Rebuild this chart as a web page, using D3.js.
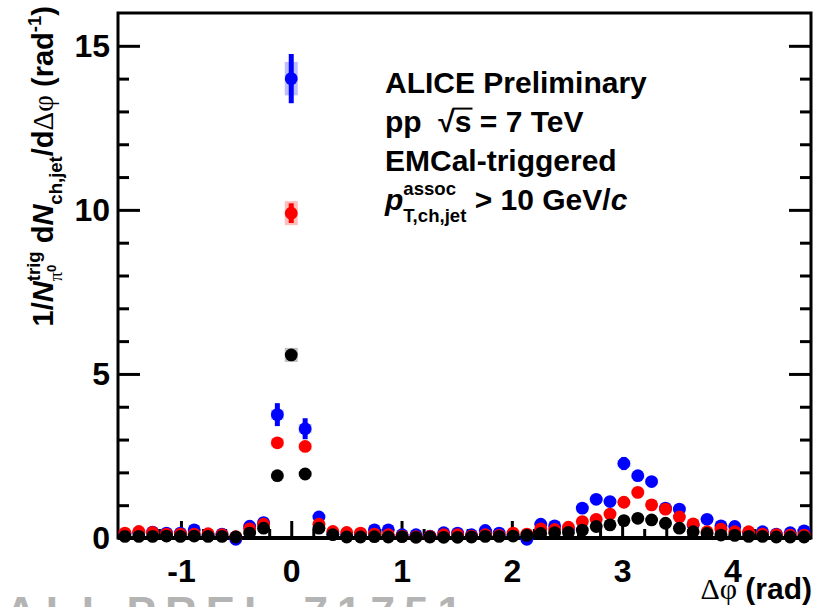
<!DOCTYPE html>
<html>
<head>
<meta charset="utf-8">
<script src="https://cdn.jsdelivr.net/npm/d3@7"></script>
<style>
  body { margin: 0; background: #fff; }
  text { font-family: "Liberation Sans", Arial, sans-serif; font-weight: bold; white-space: pre; }
</style>
</head>
<body>
<div id="main"></div>
<script>
const ctx = {
    WIDTH: 819,
    HEIGHT: 607,
    left: 118, right: 811, top: 13, bottom: 538,
};

// bin centres of the 50 dphi bins (-pi/2 .. 3pi/2)
const dphi = [-1.508, -1.382, -1.257, -1.131, -1.005, -0.880, -0.754, -0.628, -0.503, -0.377,
    -0.251, -0.126, 0.000, 0.126, 0.251, 0.377, 0.503, 0.628, 0.754, 0.880,
    1.005, 1.131, 1.257, 1.382, 1.508, 1.634, 1.759, 1.885, 2.011, 2.136,
    2.262, 2.388, 2.513, 2.639, 2.765, 2.890, 3.016, 3.142, 3.267, 3.393,
    3.519, 3.644, 3.770, 3.896, 4.021, 4.147, 4.273, 4.398, 4.524, 4.650];

const blueVals = [0.12, 0.15, 0.18, 0.15, 0.15, 0.25, 0.08, 0.12, -0.04, 0.36,
    0.47, 3.76, 14.0, 3.33, 0.64, 0.12, 0.10, 0.12, 0.25, 0.25,
    0.10, 0.10, 0.06, 0.16, 0.15, 0.10, 0.23, 0.15, 0.10, -0.04,
    0.42, 0.37, 0.28, 0.91, 1.18, 1.11, 2.27, 1.90, 1.72, 0.91,
    0.88, 0.40, 0.57, 0.37, 0.35, 0.15, 0.19, 0.12, 0.16, 0.22];
const blueErr = [0.05, 0.05, 0.05, 0.05, 0.05, 0.05, 0.05, 0.05, 0.05, 0.06,
    0.07, 0.35, 0.75, 0.32, 0.08, 0.05, 0.05, 0.05, 0.05, 0.05,
    0.05, 0.05, 0.05, 0.05, 0.05, 0.05, 0.05, 0.05, 0.05, 0.05,
    0.06, 0.06, 0.06, 0.08, 0.09, 0.09, 0.20, 0.16, 0.16, 0.08,
    0.08, 0.06, 0.06, 0.05, 0.05, 0.05, 0.05, 0.05, 0.05, 0.05];

const redVals = [0.15, 0.20, 0.17, 0.12, 0.12, 0.12, 0.13, 0.10, 0.04, 0.28,
    0.42, 2.90, 9.90, 2.79, 0.42, 0.20, 0.17, 0.15, 0.12, 0.10,
    0.06, 0.04, 0.05, 0.10, 0.10, 0.06, 0.10, 0.08, 0.15, 0.12,
    0.28, 0.26, 0.33, 0.50, 0.57, 0.73, 1.09, 1.39, 1.01, 0.88,
    0.64, 0.43, 0.19, 0.27, 0.19, 0.19, 0.12, 0.10, 0.09, 0.09];
const redErr = [0.03, 0.03, 0.03, 0.03, 0.03, 0.03, 0.03, 0.03, 0.03, 0.03,
    0.04, 0.09, 0.30, 0.09, 0.04, 0.03, 0.03, 0.03, 0.03, 0.03,
    0.03, 0.03, 0.03, 0.03, 0.03, 0.03, 0.03, 0.03, 0.03, 0.03,
    0.03, 0.03, 0.03, 0.04, 0.04, 0.05, 0.06, 0.07, 0.06, 0.05,
    0.04, 0.04, 0.03, 0.03, 0.03, 0.03, 0.03, 0.03, 0.03, 0.03];

const blackVals = [0.05, 0.05, 0.05, 0.06, 0.05, 0.06, 0.05, 0.05, 0.03, 0.15,
    0.30, 1.90, 5.58, 1.95, 0.30, 0.10, 0.03, 0.03, 0.04, 0.03,
    0.04, 0.02, 0.03, 0.02, 0.02, 0.03, 0.05, 0.05, 0.06, 0.08,
    0.14, 0.16, 0.17, 0.24, 0.35, 0.40, 0.53, 0.60, 0.55, 0.45,
    0.30, 0.19, 0.14, 0.09, 0.08, 0.05, 0.05, 0.03, 0.03, 0.03];
const blackErr = [0.02, 0.02, 0.02, 0.02, 0.02, 0.02, 0.02, 0.02, 0.02, 0.02,
    0.03, 0.05, 0.12, 0.05, 0.03, 0.02, 0.02, 0.02, 0.02, 0.02,
    0.02, 0.02, 0.02, 0.02, 0.02, 0.02, 0.02, 0.02, 0.02, 0.02,
    0.02, 0.02, 0.02, 0.02, 0.03, 0.03, 0.03, 0.03, 0.03, 0.03,
    0.02, 0.02, 0.02, 0.02, 0.02, 0.02, 0.02, 0.02, 0.02, 0.02];

const xTicks = [-1, 0, 1, 2, 3, 4];
const yTicks = [0, 5, 10, 15];

const series = [
    { name: "blue", color: "#0000ff", vals: blueVals, err: blueErr },
    { name: "red", color: "#ff0000", vals: redVals, err: redErr },
    { name: "black", color: "#000000", vals: blackVals, err: blackErr },
];

// text made of runs, with super/subscripts (stack = put below the previous run)
function richText(parent, x0, y0, runs, fs, anchor) {
    const text = parent.append("text").style("font-size", fs + "px");
    let cursor = 0, groupStart = 0, groupEnd = 0, lastEnd = 0;
    const pos = [];
    runs.forEach(r => {
        let start = r.stack ? groupStart : (r.cont ? lastEnd : cursor);
        const ts = text.append("tspan")
            .attr("x", start)
            .attr("y", (r.dy || 0) * fs)
            .style("font-size", (r.s || 1) * fs + "px")
            .text(r.t);
        if (r.it) ts.style("font-style", "italic");
        if (r.serif) ts.style("font-family", "'Liberation Serif', 'DejaVu Serif', serif").style("font-weight", "normal");
        const w = ts.node().getComputedTextLength();
        pos.push({ start: start, w: w });
        if (r.stack) {
            lastEnd = start + w;
            cursor = Math.max(groupEnd, lastEnd);
        } else if (r.cont) {
            lastEnd = start + w;
            cursor = Math.max(cursor, lastEnd);
        } else {
            groupStart = start;
            groupEnd = start + w;
            lastEnd = groupEnd;
            cursor = groupEnd;
        }
    });
    const shift = anchor === "end" ? -cursor : 0;
    text.attr("transform", `translate(${x0 + shift},${y0})`);
    return { text: text, pos: pos, shift: shift };
}

function createViz() {
    const svg = d3.select("#main").append("svg")
        .attr("width", ctx.WIDTH)
        .attr("height", ctx.HEIGHT);

    const x = d3.scaleLinear()
        .domain([-Math.PI / 2, 3 * Math.PI / 2])
        .range([ctx.left, ctx.right]);
    const y = d3.scaleLinear()
        .domain([0, 16])
        .range([ctx.bottom, ctx.top]);

    // watermark at the bottom, mostly cut off
    svg.append("text")
        .attr("x", 5).attr("y", 628)
        .attr("textLength", 457)
        .style("font-size", "44px")
        .style("fill", "#b4b4b4")
        .text("ALI-PREL-71751");

    // minor ticks
    const xMinor = d3.range(-1.4, 4.7, 0.2).filter(v => Math.abs(v - Math.round(v)) > 0.01);
    const yMinor = d3.range(1, 16, 1).filter(v => v % 5 !== 0);

    svg.append("g").attr("transform", `translate(0,${ctx.bottom})`)
        .call(d3.axisBottom(x).tickValues(xMinor).tickSize(-9).tickFormat(""));
    svg.append("g").attr("class", "xaxis").attr("transform", `translate(0,${ctx.bottom})`)
        .call(d3.axisBottom(x).tickValues(xTicks).tickSize(-17).tickPadding(21).tickFormat(d => String(d)));

    svg.append("g").attr("transform", `translate(${ctx.left},0)`)
        .call(d3.axisLeft(y).tickValues(yMinor).tickSize(-11).tickFormat(""));
    svg.append("g").attr("class", "yaxis").attr("transform", `translate(${ctx.left},0)`)
        .call(d3.axisLeft(y).tickValues(yTicks).tickSize(-22).tickPadding(8).tickFormat(d => String(d)));
    svg.append("g").attr("transform", `translate(${ctx.right},0)`)
        .call(d3.axisRight(y).tickValues(yMinor).tickSize(-11).tickFormat(""));
    svg.append("g").attr("transform", `translate(${ctx.right},0)`)
        .call(d3.axisRight(y).tickValues(yTicks).tickSize(-22).tickFormat(""));

    svg.selectAll(".domain").remove();
    svg.selectAll(".tick line").attr("stroke", "#000").attr("stroke-width", 3);
    svg.selectAll(".xaxis text, .yaxis text")
        .style("font-size", "32px")
        .style("font-family", "'Liberation Sans', Arial, sans-serif")
        .style("font-weight", "bold")
        .attr("fill", "#000");

    // frame
    svg.append("rect")
        .attr("x", ctx.left).attr("y", ctx.top)
        .attr("width", ctx.right - ctx.left).attr("height", ctx.bottom - ctx.top)
        .attr("fill", "none").attr("stroke", "#000").attr("stroke-width", 3);
    svg.append("line")
        .attr("x1", ctx.left).attr("x2", ctx.right)
        .attr("y1", ctx.bottom).attr("y2", ctx.bottom)
        .attr("stroke", "#000").attr("stroke-width", 4);

    // data
    series.forEach(s => {
        const pts = dphi.map((d, i) => ({ x: d, v: s.vals[i], e: s.err[i], sys: 0.035 * Math.abs(s.vals[i]) + 0.02 }));
        const g = svg.append("g").attr("class", "series-" + s.name);
        g.selectAll("rect.sys").data(pts).enter().append("rect")
            .attr("class", "sys")
            .attr("x", d => x(d.x) - 6.5)
            .attr("width", 13)
            .attr("y", d => y(d.v + d.sys))
            .attr("height", d => y(d.v - d.sys) - y(d.v + d.sys))
            .attr("fill", s.color).attr("fill-opacity", 0.25);
        g.selectAll("line.stat").data(pts).enter().append("line")
            .attr("class", "stat")
            .attr("x1", d => x(d.x)).attr("x2", d => x(d.x))
            .attr("y1", d => y(d.v + d.e)).attr("y2", d => y(d.v - d.e))
            .attr("stroke", s.color).attr("stroke-width", 5);
        g.selectAll("circle").data(pts).enter().append("circle")
            .attr("cx", d => x(d.x)).attr("cy", d => y(d.v))
            .attr("r", 6.4)
            .attr("fill", s.color);
    });

    // y title
    const yt = svg.append("g").attr("transform", "translate(53,6) rotate(-90)");
    richText(yt, 0, 0, [
        { t: "1/" },
        { t: "N", it: true },
        { t: "trig", dy: -0.45, s: 0.64 },
        { t: "\u03c0", dy: 0.32, s: 0.64, serif: true, stack: true },
        { t: "0", dy: 0.12, s: 0.45, cont: true },
        { t: " d" },
        { t: "N", it: true },
        { t: "ch,jet", dy: 0.32, s: 0.64 },
        { t: "/d" },
        { t: "\u0394\u03c6", serif: true },
        { t: " (rad" },
        { t: "-1", dy: -0.42, s: 0.64 },
        { t: ")" },
    ], 29, "end");

    // x title
    richText(svg, ctx.right + 1, 599, [
        { t: "\u0394\u03c6", serif: true },
        { t: " (rad)" },
    ], 30, "end");

    // labels
    const fs = 30, lx = 385;
    richText(svg, lx, 93, [{ t: "ALICE Preliminary" }], fs);
    const l2 = richText(svg, lx, 132, [
        { t: "pp  " },
        { t: "\u221a" },
        { t: "s" },
        { t: " = 7 TeV" },
    ], fs);
    const sPos = l2.pos[2];
    svg.append("line")
        .attr("x1", lx + l2.pos[1].start + l2.pos[1].w - 2).attr("x2", lx + sPos.start + sPos.w + 1)
        .attr("y1", 132 - 0.78 * fs).attr("y2", 132 - 0.78 * fs)
        .attr("stroke", "#000").attr("stroke-width", 2);
    richText(svg, lx, 171, [{ t: "EMCal-triggered" }], fs);
    richText(svg, lx, 210, [
        { t: "p", it: true },
        { t: "assoc", dy: -0.5, s: 0.62 },
        { t: "T,ch,jet", dy: 0.4, s: 0.62, stack: true },
        { t: " > 10 GeV/" },
        { t: "c", it: true },
    ], fs);
}

createViz();
</script>
</body>
</html>
